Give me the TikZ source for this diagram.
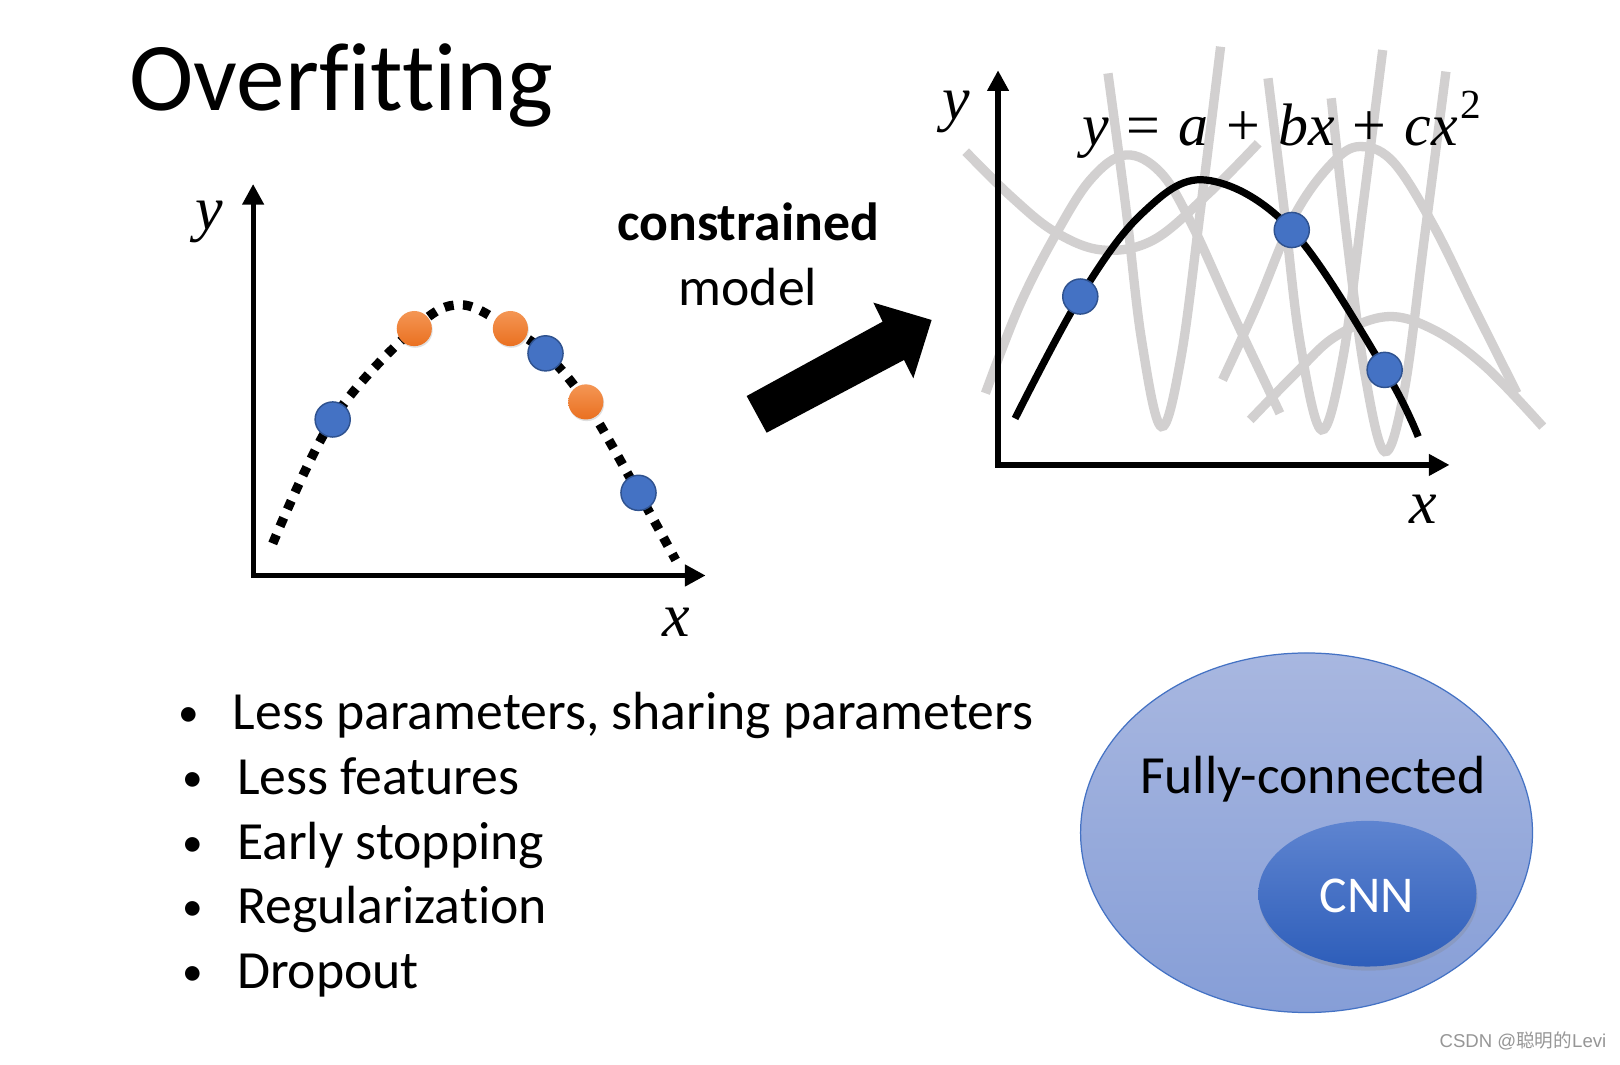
\documentclass[tikz,border=0pt]{standalone}
\usepackage{fontspec}
\setmainfont{Carlito}[Ligatures={NoCommon}]
\newfontfamily\lserif{Liberation Serif}
\newfontfamily\wmfont{Liberation Sans}
\newfontfamily\wmcjk{Noto Sans CJK SC}
\usetikzlibrary{arrows.meta,shapes.geometric,shadows}
\definecolor{dotblue}{RGB}{68,114,196}
\definecolor{dotblueedge}{RGB}{47,82,143}
\definecolor{orangetop}{RGB}{244,150,85}
\definecolor{orangebot}{RGB}{234,112,32}
\definecolor{curvegray}{RGB}{210,208,208}
\definecolor{fctop}{RGB}{168,183,224}
\definecolor{fcbot}{RGB}{134,158,215}
\definecolor{cnntop}{RGB}{94,132,208}
\definecolor{cnnbot}{RGB}{46,94,186}
\definecolor{wmgray}{RGB}{150,150,150}
\newcommand{\opsp}{\hspace{0.3em}}
\tikzset{
  axisline/.style={line width=2.5pt, line join=miter,
    {Triangle[length=10pt,width=10pt]}-{Triangle[length=10pt,width=10pt]}},
  dotline/.style={line width=4.5pt, dash pattern=on 4.5pt off 4.5pt},
  fitline/.style={line width=3.5pt},
  grayline/.style={draw=curvegray, line width=4.5pt},
  bluedot/.style={circle, minimum size=17pt, inner sep=0pt, fill=dotblue, draw=dotblueedge, line width=0.7pt},
  orangedot/.style={circle, minimum size=17pt, inner sep=0pt, top color=orangetop, bottom color=orangebot,
    drop shadow={shadow xshift=0.4pt, shadow yshift=-0.8pt, opacity=0.25}},
  bodytext/.style={inner sep=0pt, font=\fontsize{26}{30}\selectfont},
  bulletmark/.style={inner sep=0pt, font=\fontsize{20}{24}\selectfont},
  mathlabel/.style={inner sep=0pt, font=\lserif\itshape\fontsize{30}{32}\selectfont},
}
\begin{document}
\begin{tikzpicture}[x=0.5pt,y=-0.5pt]
\useasboundingbox (0,0) rectangle (1568,1030);
\fill[white] (0,0) rectangle (1568,1030);

% title
\node[anchor=base west, inner sep=0pt, font=\fontsize{47}{50}\selectfont] (title) at (125,107) {Overfitting};

% ---------- left plot ----------
\coordinate (LO) at (245,557);
\coordinate (LY) at (245,178);
\coordinate (LX) at (683,557);
\draw[dotline] plot[smooth, tension=0.6] coordinates {(264,526) (322,406) (401,318) (446,295) (494,318) (528,342) (567,389) (618,477) (654,542)};
\draw[axisline] (LY) -- (LO) -- (LX);
\node[mathlabel] (ly) at (203,215) {y};
\node[mathlabel] (lx) at (655,602) {x};
\node[orangedot] (o1) at (401,318) {};
\node[orangedot] (o2) at (494,318) {};
\node[orangedot] (o3) at (567,389) {};
\node[bluedot] (b1) at (322,406) {};
\node[bluedot] (b2) at (528,342) {};
\node[bluedot] (b3) at (618,477) {};

% ---------- middle ----------
\node[anchor=base, bodytext, font=\fontsize{26}{30}\selectfont\bfseries] (con) at (724,233) {constrained};
\node[anchor=base, bodytext] (mod) at (724,296) {model};
\fill[black] (722.7,383.3) -- (854.3,311.3) -- (845.3,292.9) -- (901.7,309.7) -- (884,366.2) -- (875,348.4) -- (742,418.8) -- cycle;

% ---------- right plot ----------
\coordinate (RO) at (966,450);
\coordinate (RY) at (966,68);
\coordinate (RX) at (1403,450);
% gray alternatives
\draw[grayline] plot[smooth, tension=0.6] coordinates {(934.7,146.8) (978.7,190.3) (1020.7,224.2) (1066.6,241.9) (1116.4,232.3) (1169.9,187.1) (1217.8,138.7)};
\draw[grayline] plot[smooth, tension=0.6] coordinates {(953.8,380.6) (986.3,296.8) (1020.7,229) (1055.2,174.2) (1089.6,150) (1124,167.7) (1154.6,219.3) (1192.9,303.2) (1238.8,400)};
\draw[grayline] plot[smooth, tension=0.6] coordinates {(1072.4,71) (1089.6,200) (1104.9,329) (1124,412.9) (1143.2,345.2) (1162.3,200) (1181.4,45.2)};
\draw[grayline] plot[smooth, tension=0.6] coordinates {(1227.3,75.8) (1242.6,200) (1257.9,329) (1279,416.1) (1300,345.2) (1319.1,200) (1338.3,48.4)};
\draw[grayline] plot[smooth, tension=0.6] coordinates {(1288.5,95.1) (1303.8,232.3) (1321,361.3) (1340.2,437.1) (1359.3,377.4) (1378.4,232.3) (1399.5,69.3)};
\draw[grayline] plot[smooth, tension=0.6] coordinates {(1183.3,367.7) (1215.8,296.8) (1254.1,206.4) (1292.4,154.8) (1319.1,141.9) (1349.7,158.1) (1388,219.3) (1426.2,296.8) (1468.3,380.6)};
\draw[grayline] plot[smooth, tension=0.6] coordinates {(1210.1,406.4) (1254.1,361.3) (1292.4,325.8) (1342.1,306.5) (1388,319.3) (1437.7,354.8) (1493.2,412.9)};
\draw[axisline] (RY) -- (RO) -- (RX);
\draw[fitline] plot[smooth, tension=0.6] coordinates {(982.5,405) (1045.6,287) (1105,207) (1166.9,174.2) (1250.3,222.6) (1340.2,358) (1372.7,422.6)};
\node[bluedot] (r1) at (1045.6,287) {};
\node[bluedot] (r2) at (1250.3,222.6) {};
\node[bluedot] (r3) at (1340.2,358) {};
\node[mathlabel] (ry) at (926,108) {y};
\node[mathlabel] (rx) at (1378,493) {x};
\node[anchor=base west, inner sep=0pt, font=\lserif\fontsize{29}{32}\selectfont] (eq) at (1047,141)
  {\textit{y}\opsp=\opsp\textit{a}\opsp+\opsp\textit{bx}\opsp+\opsp\textit{cx}\hspace{0.05em}\raisebox{0.45em}{\fontsize{20}{22}\selectfont 2}};

% ---------- bullets ----------
\node[anchor=base, bulletmark] (bu1) at (183,703) {•};
\node[anchor=base west, bodytext] (t1) at (225,706) {Less parameters, sharing parameters};
\node[anchor=base, bulletmark] (bu2) at (187,766) {•};
\node[anchor=base west, bodytext] (t2) at (229,769) {Less features};
\node[anchor=base, bulletmark] (bu3) at (187,829) {•};
\node[anchor=base west, bodytext] (t3) at (229,832) {Early stopping};
\node[anchor=base, bulletmark] (bu4) at (187,891) {•};
\node[anchor=base west, bodytext] (t4) at (229,894) {Regularization};
\node[anchor=base, bulletmark] (bu5) at (187,954) {•};
\node[anchor=base west, bodytext] (t5) at (229,957) {Dropout};

% ---------- ellipses ----------
\node[ellipse, minimum width=218.7pt, minimum height=174pt, inner sep=0pt,
  top color=fctop, bottom color=fcbot, draw=dotblue, line width=0.6pt] (fc) at (1264.6,806) {};
\node[anchor=base west, bodytext] (fctext) at (1103,768) {Fully-connected};
\node[ellipse, minimum width=105.6pt, minimum height=70.5pt, inner sep=0pt,
  top color=cnntop, bottom color=cnnbot,
  drop shadow={shadow xshift=0.5pt, shadow yshift=-2pt, opacity=0.25}] (cnn) at (1323.5,865) {};
\node[anchor=base, inner sep=0pt, text=white, font=\fontsize{25}{30}\selectfont] (cnntext) at (1323,883) {CNN};

% watermark
\node[anchor=base west, inner sep=0pt, text=wmgray, font=\wmfont\fontsize{9}{10}\selectfont] (wm) at (1393,1014) {CSDN @{\wmcjk 聪明的}Levi};
\end{tikzpicture}
\end{document}
